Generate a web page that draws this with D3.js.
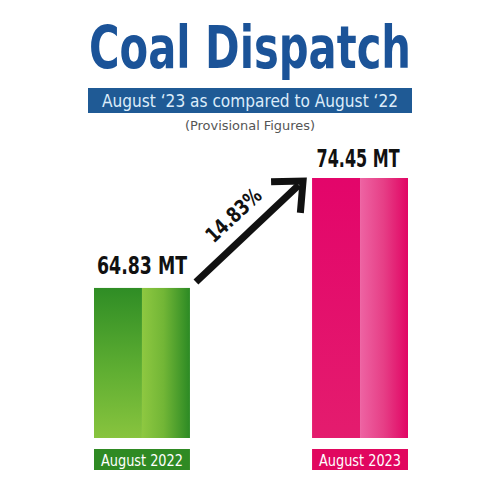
<!DOCTYPE html>
<html>
<head>
<meta charset="utf-8">
<script src="https://cdn.jsdelivr.net/npm/d3@7"></script>
<style>
  body { margin: 0; background: #fff; }
  svg { display: block; }
</style>
</head>
<body>
<div id="chart"></div>
<script>
// chart data
var months = ["August 2022", "August 2023"];
var dispatch = [64.83, 74.45];
var valueLabels = ["64.83 MT", "74.45 MT"];
var growthLabel = "14.83%";

var width = 500, height = 500;

var svg = d3.select("#chart")
  .append("svg")
    .attr("width", width)
    .attr("height", height);

var defs = svg.append("defs");

// gradients for the two-tone bars
function gradient(id, x2, y2, stops) {
  var g = defs.append("linearGradient").attr("id", id)
    .attr("x1", 0).attr("y1", 0).attr("x2", x2).attr("y2", y2);
  stops.forEach(function(s) {
    g.append("stop").attr("offset", s[0]).attr("stop-color", s[1]);
  });
}
gradient("greenL", 0, 1, [[0, "#2f8d25"], [0.55, "#5fae32"], [1, "#88c43e"]]);
gradient("greenR", 1, 0, [[0, "#8ec841"], [0.45, "#72b636"], [1, "#2c8a24"]]);
gradient("pinkL", 0, 1, [[0, "#e3056a"], [1, "#e41c6e"]]);
gradient("pinkR", 1, 0, [[0, "#ee64a3"], [0.5, "#e63e86"], [1, "#e10564"]]);

var fills = [["url(#greenL)", "url(#greenR)"], ["url(#pinkL)", "url(#pinkR)"]];
var tagColors = ["#2f8a23", "#e1075f"];

var font = "DejaVu Sans Condensed, DejaVu Sans";

// title block
svg.append("text")
  .attr("x", 250).attr("y", 68)
  .attr("text-anchor", "middle")
  .attr("textLength", 322).attr("lengthAdjust", "spacingAndGlyphs")
  .style("font-family", font)
  .style("font-weight", "bold")
  .style("font-size", "58px")
  .style("fill", "#1b5398")
  .text("Coal Dispatch");

svg.append("rect")
  .attr("x", 88).attr("y", 88).attr("width", 324).attr("height", 25)
  .style("fill", "#1f5a95");

svg.append("text")
  .attr("x", 250).attr("y", 107)
  .attr("text-anchor", "middle")
  .attr("textLength", 296).attr("lengthAdjust", "spacingAndGlyphs")
  .style("font-family", font)
  .style("font-size", "18px")
  .style("fill", "#dcecfa")
  .text("August \u201823 as compared to August \u201822");

svg.append("text")
  .attr("x", 250).attr("y", 130)
  .attr("text-anchor", "middle")
  .attr("textLength", 130).attr("lengthAdjust", "spacingAndGlyphs")
  .style("font-family", font)
  .style("font-size", "13px")
  .style("fill", "#555")
  .text("(Provisional Figures)");

// scales
var x = d3.scaleBand()
  .domain(months)
  .range([94, 408])
  .paddingInner(0.56)
  .paddingOuter(0);

var y = d3.scaleLinear()
  .domain([51.7, 74.45])
  .range([438, 178]);

var data = months.map(function(m, i) {
  return { month: m, value: dispatch[i], label: valueLabels[i], i: i };
});

var bars = svg.selectAll("g.bar").data(data).enter()
  .append("g").attr("class", "bar")
  .attr("transform", function(d) { return "translate(" + x(d.month) + ",0)"; });

var half = x.bandwidth() / 2;

bars.append("rect")
  .attr("x", 0)
  .attr("y", function(d) { return y(d.value); })
  .attr("width", half)
  .attr("height", function(d) { return y.range()[0] - y(d.value); })
  .style("fill", function(d) { return fills[d.i][0]; });

bars.append("rect")
  .attr("x", half)
  .attr("y", function(d) { return y(d.value); })
  .attr("width", half)
  .attr("height", function(d) { return y.range()[0] - y(d.value); })
  .style("fill", function(d) { return fills[d.i][1]; });

// value labels
bars.append("text")
  .attr("x", function(d) { return d.i == 0 ? 48 : 46; })
  .attr("y", function(d) { return y(d.value) - (d.i == 0 ? 14 : 11); })
  .attr("text-anchor", "middle")
  .attr("textLength", function(d) { return d.i == 0 ? 90 : 83; })
  .attr("lengthAdjust", "spacingAndGlyphs")
  .style("font-family", font)
  .style("font-weight", "bold")
  .style("font-size", "24px")
  .style("fill", "#111")
  .text(function(d) { return d.label; });

// category tags
bars.append("rect")
  .attr("x", 0).attr("y", 449)
  .attr("width", x.bandwidth()).attr("height", 21)
  .style("fill", function(d) { return tagColors[d.i]; });

bars.append("text")
  .attr("x", x.bandwidth() / 2).attr("y", 466)
  .attr("text-anchor", "middle")
  .attr("textLength", 82).attr("lengthAdjust", "spacingAndGlyphs")
  .style("font-family", font)
  .style("font-size", "16px")
  .style("fill", "#fff")
  .text(function(d) { return d.month; });

// growth arrow
var x0 = x(months[0]) + x.bandwidth() + 6, y0 = y(dispatch[0]) - 6;
var x1 = x(months[1]) - 9, y1 = y(dispatch[1]) + 3;
var ang = Math.atan2(y1 - y0, x1 - x0);

svg.append("line")
  .attr("x1", x0).attr("y1", y0)
  .attr("x2", x1 - 6 * Math.cos(ang)).attr("y2", y1 - 6 * Math.sin(ang))
  .style("stroke", "#111")
  .style("stroke-width", 7);

var wing = 32, spread = Math.PI / 4.3;
svg.append("path")
  .attr("d", "M" + (x1 - wing * Math.cos(ang - spread)) + "," + (y1 - wing * Math.sin(ang - spread)) +
             "L" + x1 + "," + y1 +
             "L" + (x1 - wing * Math.cos(ang + spread)) + "," + (y1 - wing * Math.sin(ang + spread)))
  .style("fill", "none")
  .style("stroke", "#111")
  .style("stroke-width", 7)
  .style("stroke-linejoin", "miter");

var mx = (x0 + x1) / 2 - 11, my = (y0 + y1) / 2 - 11;
svg.append("text")
  .attr("transform", "translate(" + mx + "," + my + ") rotate(" + (ang * 180 / Math.PI) + ")")
  .attr("text-anchor", "middle")
  .attr("textLength", 68).attr("lengthAdjust", "spacingAndGlyphs")
  .style("font-family", font)
  .style("font-weight", "bold")
  .style("font-size", "21px")
  .style("fill", "#111")
  .text(growthLabel);
</script>
</body>
</html>
